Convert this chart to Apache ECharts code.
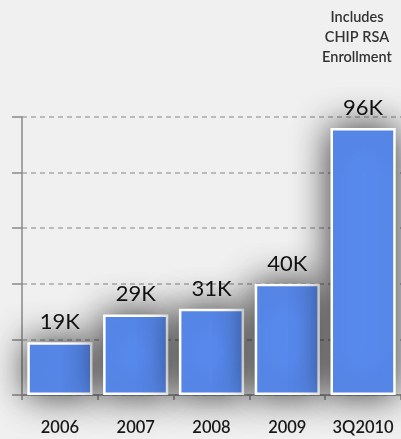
<!DOCTYPE html>
<html>
<head>
<meta charset="utf-8">
<script src="https://cdn.jsdelivr.net/npm/echarts@6/dist/echarts.min.js"></script>
<style>
  html, body { margin: 0; padding: 0; background: #f0f0f0; }
  #chart { width: 401px; height: 439px; }
</style>
</head>
<body>
<div id="chart"></div>
<script>
// Enrollment by year, in thousands
const categories = ['2006', '2007', '2008', '2009', '3Q2010'];
const enrollment = [19, 29, 31, 40, 96];
const yMin = 0;
const yMax = 100;
const yStep = 20;
const noteLines = ['Includes', 'CHIP RSA', 'Enrollment'];

const FONT = 'Lato, "Open Sans", sans-serif';

const chart = echarts.init(document.getElementById('chart'), null, { renderer: 'canvas' });

chart.setOption({
  backgroundColor: '#f0f0f0',
  animation: false,
  grid: { left: 22, right: 0, top: 117, bottom: 44, containLabel: false },
  graphic: [{
    type: 'text',
    x: 357,
    y: 7,
    style: {
      text: noteLines.join('\n'),
      font: '600 14.5px ' + FONT,
      fill: '#333',
      align: 'center',
      verticalAlign: 'top',
      lineHeight: 20
    }
  }],
  xAxis: {
    type: 'category',
    data: categories,
    axisLine: { show: true, lineStyle: { color: '#8a8a8a', width: 1.5 } },
    axisTick: { show: true, alignWithLabel: false, length: 5, lineStyle: { color: '#8a8a8a', width: 1.5 } },
    axisLabel: { interval: 0, color: '#1a1a1a', fontFamily: FONT, fontSize: 16.5, fontWeight: 600, margin: 24 }
  },
  yAxis: {
    type: 'value',
    min: yMin,
    max: yMax,
    interval: yStep,
    axisLine: { show: true, lineStyle: { color: '#8a8a8a', width: 1.5 } },
    axisTick: { show: true, inside: false, length: 10, lineStyle: { color: '#8a8a8a', width: 1.5 } },
    axisLabel: { show: false },
    splitLine: { show: true, lineStyle: { color: '#a8a8a8', type: [5, 4], width: 1.5 } }
  },
  series: [{
    type: 'bar',
    data: enrollment,
    barCategoryGap: '14%',
    itemStyle: {
      color: '#5a8df3',
      borderColor: '#ffffff',
      borderWidth: 2.5,
      shadowColor: 'rgba(0,0,0,0.8)',
      shadowBlur: 36
    },
    label: {
      show: true,
      position: 'top',
      distance: 9,
      formatter: '{c}K',
      color: '#111',
      fontFamily: FONT,
      fontSize: 22
    }
  }]
});
</script>
</body>
</html>
